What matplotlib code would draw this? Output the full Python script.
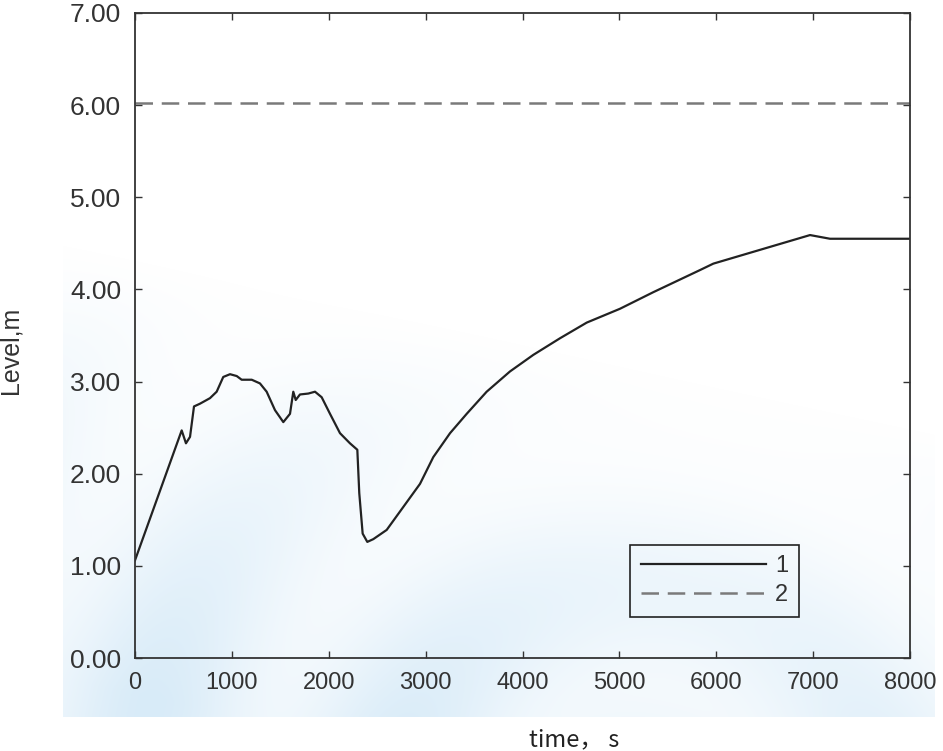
import numpy as np
import matplotlib
matplotlib.use("Agg")
import matplotlib.pyplot as plt

# Datos
time_s = [0, 482, 526, 568, 609, 671, 774, 843, 911, 981, 1050, 1101, 1205,
          1290, 1359, 1445, 1531, 1600, 1634, 1659, 1703, 1789, 1858, 1927,
          2013, 2116, 2219, 2295, 2315, 2350, 2398, 2460, 2598, 2770, 2942,
          3079, 3252, 3424, 3630, 3871, 4112, 4387, 4663, 5006, 5350, 5832,
          5970, 6968, 7174, 8000]
level_1 = [1.06, 2.47, 2.33, 2.40, 2.73, 2.76, 2.82, 2.89, 3.05, 3.08, 3.06,
           3.02, 3.02, 2.98, 2.89, 2.69, 2.56, 2.65, 2.89, 2.80, 2.86, 2.87,
           2.89, 2.83, 2.65, 2.44, 2.33, 2.26, 1.79, 1.35, 1.26, 1.29, 1.39,
           1.64, 1.89, 2.18, 2.44, 2.65, 2.89, 3.11, 3.29, 3.47, 3.64, 3.79,
           3.97, 4.21, 4.28, 4.59, 4.55, 4.55]
level_2 = 6.02  # línea límite
legend_labels = ["1", "2"]
x_ticks = [0, 1000, 2000, 3000, 4000, 5000, 6000, 7000, 8000]
y_ticks = [0, 1, 2, 3, 4, 5, 6, 7]

plt.rcParams['font.family'] = ['Liberation Sans', 'DejaVu Sans']

fig = plt.figure(figsize=(9.43, 7.51), dpi=100)

# Fondo tipo marca de agua (azul muy claro)
bg = fig.add_axes([0, 0, 1, 1], zorder=-1)
bg.set_xlim(0, 943)
bg.set_ylim(751, 0)
bg.axis('off')
W, H = 943, 751
yy, xx = np.mgrid[0:H, 0:W]
alpha = np.clip(1.2 - (751 - yy) * 0.0023 - xx * 0.0005, 0, 1)
alpha *= ((xx > 62) & (xx < 935) & (yy < 717)).astype(float)
r = np.hypot(xx - 640, yy - 820)
alpha *= 0.7 + 0.3 * np.cos(r / 40.0)
img = np.zeros((H, W, 4))
img[..., 0] = 0.85
img[..., 1] = 0.925
img[..., 2] = 0.975
img[..., 3] = np.clip(alpha, 0, 1)
bg.imshow(img, extent=(0, W, H, 0), aspect='auto', interpolation='bilinear')

ax = fig.add_axes([135 / 943, 93 / 751, 775 / 943, 645 / 751])
ax.patch.set_alpha(0)

ax.plot(time_s, level_1, color='#222222', lw=1.6, label=legend_labels[0])
ax.plot([x_ticks[0], x_ticks[-1]], [level_2, level_2], color='#7a7a7a', lw=1.8,
        dashes=(7, 3.5), label=legend_labels[1])

ax.set_xlim(0, 8000)
ax.set_ylim(0, 7)
ax.set_xticks(x_ticks)
ax.set_yticks(y_ticks)
ax.set_yticklabels([f"{v:.2f}" for v in y_ticks])
ax.tick_params(direction='in', length=5, width=1, top=True, right=True,
               colors='#333333')
ax.tick_params(axis='x', pad=10, labelsize=17)
ax.tick_params(axis='y', pad=10, labelsize=19)
for s in ax.spines.values():
    s.set_color('#333333')
    s.set_linewidth(1.3)

ax.set_ylabel("Level,m", fontsize=18, color='#333333')
ax.yaxis.set_label_coords(-(135 - 23) / 775, (658 - 350) / 645)
fig.text(574 / 943, 1 - 740 / 751, "time， s", fontsize=17, color='#222222',
         ha='center', va='center', family=['Noto Sans CJK SC', 'DejaVu Sans'])

leg = ax.legend(loc='lower left', bbox_to_anchor=((630 - 135) / 775, (658 - 617) / 645),
                borderaxespad=0, fontsize=17, handlelength=5.3, handletextpad=0.4,
                labelspacing=0.3, borderpad=0.45, fancybox=False, framealpha=1)
leg.get_frame().set_facecolor('none')
leg.get_frame().set_edgecolor('#222222')
leg.get_frame().set_linewidth(1.2)
for t in leg.get_texts():
    t.set_color('#333333')

fig.savefig("out.png", dpi=100)
